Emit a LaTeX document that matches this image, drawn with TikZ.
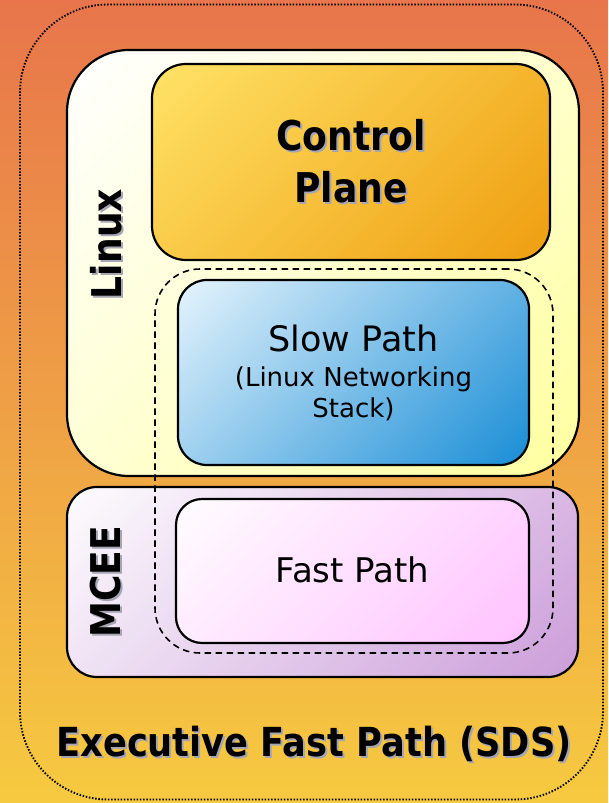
\documentclass[tikz,border=0pt]{standalone}
\usepackage{fontspec}
\setmainfont{DejaVu Sans}
\newfontfamily\labfont{DejaVu Sans}[FakeStretch=0.88]
\definecolor{bgtop}{RGB}{232,117,75}
\definecolor{bgmid}{RGB}{241,148,70}
\definecolor{bgbot}{RGB}{246,202,64}
\definecolor{lxA}{RGB}{255,255,255}
\definecolor{lxB}{RGB}{255,255,160}
\definecolor{cpA}{RGB}{255,226,102}
\definecolor{cpB}{RGB}{239,158,16}
\definecolor{spA}{RGB}{228,243,252}
\definecolor{spB}{RGB}{26,142,214}
\definecolor{mcA}{RGB}{253,252,254}
\definecolor{mcB}{RGB}{204,158,218}
\definecolor{fpA}{RGB}{255,253,255}
\definecolor{fpB}{RGB}{255,194,255}
\definecolor{shadowgray}{RGB}{165,165,180}
\newcommand\diagshade[3]{\pgfdeclareverticalshading{#1}{100bp}{color(0bp)=(#3); color(15bp)=(#3); color(85bp)=(#2); color(100bp)=(#2)}}
\diagshade{lxshade}{lxA}{lxB}
\diagshade{cpshade}{cpA}{cpB}
\diagshade{spshade}{spA}{spB}
\diagshade{mcshade}{mcA}{mcB}
\diagshade{fpshade}{fpA}{fpB}
\newcommand\shd[1]{\makebox[0pt][l]{\hspace{2pt}\raisebox{-2pt}{\color{shadowgray}#1}}#1}
\newcommand\shdr[1]{\makebox[0pt][l]{\hspace{-2pt}\raisebox{-2pt}{\color{shadowgray}#1}}#1}
\tikzset{
  boxnode/.style={draw=black, line width=2.2pt, inner sep=0pt, align=center},
  diag/.style={shade, shading=#1, shading angle=45},
  biglabel/.style={font=\labfont\bfseries\fontsize{41}{52}\selectfont, inner sep=0pt},
}
\begin{document}
\begin{tikzpicture}[x=1pt,y=-1pt]
\path[use as bounding box, top color=bgtop, middle color=bgmid, bottom color=bgbot] (0,0) rectangle (608,803);
\node[draw=black, line width=1.9pt, dash pattern=on 1.5pt off 1.7pt, rounded corners=88pt, minimum width=583pt, minimum height=795pt, inner sep=0pt] (outer) at (311.5,402) {};
\node[boxnode, rounded corners=62pt, minimum width=512pt, minimum height=426pt, diag=lxshade] (linux) at (323,263) {};
\node[boxnode, rounded corners=34pt, minimum width=398pt, minimum height=196pt, diag=cpshade, font=\labfont\bfseries\fontsize{41}{52}\selectfont] (cp) at (351,162) {\shd{Control}\\\shd{Plane}};
\node[boxnode, rounded corners=29pt, minimum width=351pt, minimum height=185pt, diag=spshade, font=\fontsize{26}{31}\selectfont] (sp) at (353.5,372.5) {{\fontsize{35}{36}\selectfont Slow Path}\\[4pt](Linux Networking\\Stack)};
\node[boxnode, rounded corners=30pt, minimum width=511pt, minimum height=190pt, diag=mcshade] (mcee) at (322.5,582) {};
\node[boxnode, rounded corners=26pt, minimum width=353pt, minimum height=144pt, diag=fpshade, font=\fontsize{34}{40}\selectfont] (fp) at (352.5,571) {\raisebox{3pt}{Fast Path}};
\node[draw=black, line width=1.6pt, dash pattern=on 6.5pt off 4.5pt, rounded corners=45pt, minimum width=398pt, minimum height=384pt, inner sep=0pt] (dash) at (354,461) {};
\node[biglabel, rotate=90] (lxlab) at (107,244) {\shdr{Linux}};
\node[biglabel, rotate=90] (mclab) at (107,582) {\shdr{MCEE}};
\node[font=\labfont\bfseries\fontsize{40}{48}\selectfont, inner sep=0pt] (efp) at (314,745) {\shd{Executive Fast Path (SDS)}};
\end{tikzpicture}
\end{document}
